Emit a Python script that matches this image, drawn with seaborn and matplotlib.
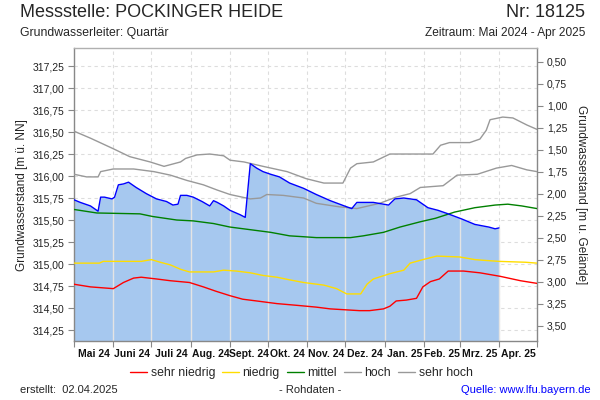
import matplotlib
matplotlib.use("Agg")
import numpy as np
import pandas as pd
import seaborn as sns
import matplotlib.pyplot as plt
import matplotlib.dates as mdates
from matplotlib.lines import Line2D

# --- data ---
GELAENDE = 317.80  # ground level, links left axis (m ü. NN) to right axis (m u. Gelände)

mess_datum = ["2024-05-01", "2024-05-06", "2024-05-14", "2024-05-20", "2024-05-22", "2024-05-25",
              "2024-05-31", "2024-06-02", "2024-06-05", "2024-06-09", "2024-06-13", "2024-06-19",
              "2024-06-27", "2024-07-05", "2024-07-13", "2024-07-18", "2024-07-22", "2024-07-24",
              "2024-07-29", "2024-08-03", "2024-08-10", "2024-08-16", "2024-08-19", "2024-08-22",
              "2024-08-27", "2024-09-01", "2024-09-09", "2024-09-13", "2024-09-17", "2024-09-22",
              "2024-09-27", "2024-10-03", "2024-10-10", "2024-10-18", "2024-10-29", "2024-11-08",
              "2024-11-19", "2024-12-02", "2024-12-06", "2024-12-10", "2024-12-16", "2024-12-23",
              "2024-12-31", "2025-01-04", "2025-01-09", "2025-01-16", "2025-01-26", "2025-01-30",
              "2025-02-04", "2025-02-12", "2025-02-20", "2025-03-03", "2025-03-13", "2025-03-24",
              "2025-03-29", "2025-04-01"]
mess_wert = [315.73, 315.70, 315.66, 315.60, 315.76, 315.76,
             315.74, 315.76, 315.90, 315.91, 315.93, 315.87,
             315.80, 315.74, 315.71, 315.67, 315.68, 315.78,
             315.78, 315.76, 315.71, 315.66, 315.72, 315.70,
             315.66, 315.61, 315.56, 315.53, 316.14, 316.09,
             316.05, 316.02, 315.99, 315.92, 315.86, 315.79,
             315.72, 315.65, 315.63, 315.70, 315.70, 315.70,
             315.68, 315.67, 315.74, 315.75, 315.73, 315.69,
             315.64, 315.61, 315.57, 315.51, 315.45, 315.42,
             315.40, 315.41]

mittel_datum = ["2024-05-01", "2024-05-19", "2024-06-22", "2024-07-02", "2024-07-21", "2024-08-03",
                "2024-08-19", "2024-09-01", "2024-09-17", "2024-10-03", "2024-10-18", "2024-10-29",
                "2024-11-08", "2024-12-05", "2024-12-15", "2024-12-31", "2025-01-13", "2025-01-29",
                "2025-02-10", "2025-02-25", "2025-03-13", "2025-03-29", "2025-04-08", "2025-04-19",
                "2025-05-01"]
mittel_wert = [315.62, 315.58, 315.57, 315.54, 315.50, 315.49,
               315.46, 315.42, 315.39, 315.36, 315.32, 315.31,
               315.30, 315.30, 315.32, 315.36, 315.42, 315.48,
               315.52, 315.59, 315.64, 315.67, 315.68, 315.66,
               315.63]

niedrig_datum = ["2024-05-01", "2024-05-21", "2024-05-24", "2024-06-23", "2024-07-01", "2024-07-08",
                 "2024-07-16", "2024-07-24", "2024-07-31", "2024-08-19", "2024-08-27", "2024-09-06",
                 "2024-09-17", "2024-09-27", "2024-10-08", "2024-10-18", "2024-10-29", "2024-11-14",
                 "2024-11-24", "2024-12-02", "2024-12-13", "2024-12-18", "2024-12-23", "2025-01-05",
                 "2025-01-16", "2025-01-21", "2025-01-31", "2025-02-11", "2025-03-01", "2025-03-13",
                 "2025-03-22", "2025-04-01", "2025-04-22", "2025-05-01"]
niedrig_wert = [315.01, 315.01, 315.03, 315.03, 315.05, 315.02,
                314.99, 314.94, 314.91, 314.91, 314.93, 314.92,
                314.90, 314.87, 314.85, 314.82, 314.79, 314.76,
                314.72, 314.66, 314.66, 314.77, 314.83, 314.89,
                314.93, 315.01, 315.05, 315.09, 315.08, 315.05,
                315.04, 315.03, 315.02, 315.01]

sniedrig_datum = ["2024-05-01", "2024-05-14", "2024-06-01", "2024-06-09", "2024-06-17", "2024-06-23",
                  "2024-07-05", "2024-07-16", "2024-07-31", "2024-08-11", "2024-08-21", "2024-09-01",
                  "2024-09-11", "2024-09-22", "2024-10-08", "2024-10-24", "2024-11-08", "2024-11-19",
                  "2024-12-12", "2024-12-20", "2024-12-31", "2025-01-05", "2025-01-10", "2025-01-18",
                  "2025-01-26", "2025-01-31", "2025-02-06", "2025-02-13", "2025-02-20", "2025-03-04",
                  "2025-03-17", "2025-04-02", "2025-04-18", "2025-05-01"]
sniedrig_wert = [314.77, 314.74, 314.72, 314.79, 314.84, 314.85,
                 314.83, 314.81, 314.79, 314.74, 314.69, 314.64,
                 314.60, 314.58, 314.55, 314.53, 314.51, 314.49,
                 314.47, 314.47, 314.49, 314.52, 314.58, 314.59,
                 314.61, 314.74, 314.80, 314.83, 314.92, 314.92,
                 314.90, 314.86, 314.81, 314.78]

hoch_datum = ["2024-05-01", "2024-05-11", "2024-05-20", "2024-05-22", "2024-06-01", "2024-06-17",
              "2024-07-03", "2024-07-16", "2024-07-29", "2024-08-11", "2024-08-22", "2024-09-01",
              "2024-09-17", "2024-09-25", "2024-09-30", "2024-10-13", "2024-10-29", "2024-11-08",
              "2024-11-26", "2024-12-10", "2024-12-28", "2025-01-10", "2025-01-21", "2025-01-29",
              "2025-02-16", "2025-02-27", "2025-03-15", "2025-03-30", "2025-04-11", "2025-04-23",
              "2025-05-01"]
hoch_wert = [316.02, 315.99, 315.99, 316.05, 316.08, 316.08,
             316.05, 316.01, 315.95, 315.90, 315.84, 315.79,
             315.74, 315.75, 315.79, 315.78, 315.75, 315.69,
             315.65, 315.63, 315.69, 315.76, 315.80, 315.87,
             315.89, 316.01, 316.02, 316.09, 316.12, 316.07,
             316.05]

shoch_datum = ["2024-05-01", "2024-05-14", "2024-06-01", "2024-06-14", "2024-06-30", "2024-07-11",
               "2024-07-24", "2024-07-28", "2024-08-06", "2024-08-16", "2024-08-27", "2024-09-01",
               "2024-09-12", "2024-09-27", "2024-10-16", "2024-10-31", "2024-11-14", "2024-11-29",
               "2024-12-05", "2024-12-10", "2024-12-23", "2025-01-05", "2025-02-08", "2025-02-14",
               "2025-02-21", "2025-03-09", "2025-03-17", "2025-03-22", "2025-03-25", "2025-04-04",
               "2025-04-12", "2025-04-23", "2025-05-01"]
shoch_wert = [316.51, 316.43, 316.31, 316.22, 316.16, 316.11,
              316.16, 316.20, 316.24, 316.25, 316.23, 316.18,
              316.16, 316.11, 316.05, 315.97, 315.92, 315.92,
              316.09, 316.14, 316.16, 316.25, 316.25, 316.35,
              316.38, 316.38, 316.42, 316.52, 316.64, 316.67,
              316.66, 316.58, 316.53]

monat_labels = ["Mai 24", "Juni 24", "Juli 24", "Aug. 24", "Sept. 24", "Okt. 24",
                "Nov. 24", "Dez. 24", "Jan. 25", "Feb. 25", "Mrz. 25", "Apr. 25"]

# --- styling ---
sns.set_style("white")
plt.rcParams['font.family'] = ['Liberation Sans', 'DejaVu Sans']

GRAU = '#888888'
FILL = '#a6c8ef'

def frame(datum, wert):
    return pd.DataFrame({'datum': pd.to_datetime(datum), 'wert': wert})

mess = frame(mess_datum, mess_wert)
mittel = frame(mittel_datum, mittel_wert)
niedrig = frame(niedrig_datum, niedrig_wert)
sniedrig = frame(sniedrig_datum, sniedrig_wert)
hoch = frame(hoch_datum, hoch_wert)
shoch = frame(shoch_datum, shoch_wert)

y_lo, y_hi = 314.125, 317.455
monate = pd.date_range("2024-05-01", "2025-05-01", freq="MS")
mitten = monate[:-1] + (monate[1:] - monate[:-1]) / 2

fig = plt.figure(figsize=(6, 4), dpi=100)
ax = fig.add_axes([0.1233, 0.1475, 0.7717, 0.7325])

ax.fill_between(mess['datum'], y_lo, mess['wert'], color=FILL, lw=0, zorder=1)

# light month separators drawn over the filled area
mnum = mdates.date2num(monate[1:-1])
fill_top = np.interp(mnum, mdates.date2num(mess['datum']), mess['wert'], right=np.nan)
ok = ~np.isnan(fill_top)
ax.vlines(monate[1:-1][ok], y_lo, fill_top[ok], color='#e4e4e4', lw=1, zorder=1.5)

sns.lineplot(data=shoch, x='datum', y='wert', ax=ax, color='#999999', lw=1, zorder=3)
sns.lineplot(data=hoch, x='datum', y='wert', ax=ax, color='#999999', lw=1, zorder=3)
sns.lineplot(data=mittel, x='datum', y='wert', ax=ax, color='#008000', lw=1, zorder=3)
sns.lineplot(data=niedrig, x='datum', y='wert', ax=ax, color='#ffdd00', lw=1, zorder=3)
sns.lineplot(data=sniedrig, x='datum', y='wert', ax=ax, color='#ff0000', lw=1, zorder=3)
sns.lineplot(data=mess, x='datum', y='wert', ax=ax, color='#0000ff', lw=1, zorder=4)

ax.set_xlim(monate[0], monate[-1])
ax.set_ylim(y_lo, y_hi)
ax.set_xlabel("")
ax.set_ylabel("")

yt = np.arange(314.25, 317.26, 0.25)
ax.set_yticks(yt)
ax.set_yticklabels([f"{v:.2f}".replace('.', ',') for v in yt])
ax.set_xticks(monate)
ax.set_xticklabels([])
ax.set_xticks(mitten, minor=True)
ax.set_xticklabels(monat_labels, minor=True)

ax.grid(True, which='major', color='#dddddd', ls=(0, (3, 3)), lw=0.8)
ax.set_axisbelow(True)

ax.tick_params(axis='y', which='major', direction='out', length=4, width=0.8,
               color=GRAU, labelsize=7.5, labelcolor='#222222', left=True, pad=3)
ax.tick_params(axis='x', which='major', direction='out', length=4, width=0.8,
               color=GRAU, bottom=True)
ax.tick_params(axis='x', which='minor', length=0, labelsize=7.5, pad=6,
               labelcolor='#111111')
for lab in ax.get_xticklabels(minor=True):
    lab.set_fontweight('bold')

for side in ['left', 'bottom', 'right']:
    ax.spines[side].set_color(GRAU)
    ax.spines[side].set_linewidth(1)
ax.spines['top'].set_color('#b0b0b0')
ax.spines['top'].set_linewidth(1)

ax2 = ax.twinx()
ax2.set_ylim(GELAENDE - y_lo, GELAENDE - y_hi)
rt = np.arange(0.5, 3.51, 0.25)
ax2.set_yticks(rt)
ax2.set_yticklabels([f"{v:.2f}".replace('.', ',') for v in rt])
ax2.tick_params(axis='y', direction='out', length=4, width=0.8, color=GRAU,
                labelsize=7.5, labelcolor='#222222', right=True, pad=3)
for s in ax2.spines.values():
    s.set_visible(False)
ax2.grid(False)

# --- texts ---
fig.text(0.033, 0.99, "Messstelle: POCKINGER HEIDE", fontsize=13, va='top', ha='left')
fig.text(0.975, 0.99, "Nr: 18125", fontsize=13, va='top', ha='right')
fig.text(0.033, 0.932, "Grundwasserleiter: Quartär", fontsize=8.8, va='top', ha='left')
fig.text(0.975, 0.932, "Zeitraum: Mai 2024 - Apr 2025", fontsize=8.6, va='top', ha='right')

fig.text(0.037, 0.513, "Grundwasserstand [m ü. NN]", rotation=90, fontsize=8.5,
         va='center', ha='center')
fig.text(0.968, 0.513, "Grundwasserstand [m u. Gelände]", rotation=270, fontsize=8.5,
         va='center', ha='center')

handles = [Line2D([], [], color='#ff0000', lw=1),
           Line2D([], [], color='#ffdd00', lw=1),
           Line2D([], [], color='#008000', lw=1),
           Line2D([], [], color='#999999', lw=1),
           Line2D([], [], color='#999999', lw=1)]
fig.legend(handles, ["sehr niedrig", "niedrig", "mittel", "hoch", "sehr hoch"],
           loc='center', bbox_to_anchor=(0.502, 0.0675), ncol=5, frameon=False,
           fontsize=8.8, handlelength=1.4, handletextpad=0.3, columnspacing=0.55)

fig.text(0.033, 0.025, "erstellt:  02.04.2025", fontsize=8, va='center', ha='left')
fig.text(0.517, 0.025, "- Rohdaten -", fontsize=8, va='center', ha='center')
fig.text(0.985, 0.025, "Quelle: www.lfu.bayern.de", fontsize=8, va='center', ha='right',
         color='#0000ff')

fig.savefig("out.png", dpi=100)
